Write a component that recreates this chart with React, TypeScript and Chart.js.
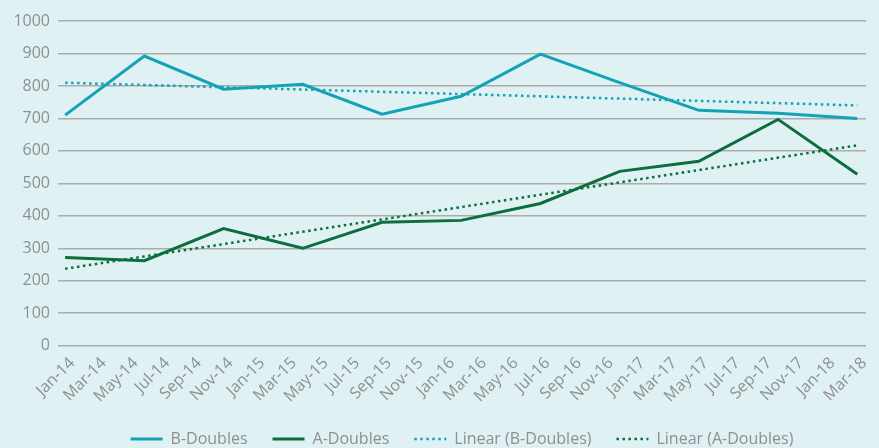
import React, { useEffect, useRef } from "react";
import { Chart, registerables } from "chart.js";

Chart.register(...registerables);

const tickLabels = [
  "Jan-14", "Mar-14", "May-14", "Jul-14", "Sep-14", "Nov-14",
  "Jan-15", "Mar-15", "May-15", "Jul-15", "Sep-15", "Nov-15",
  "Jan-16", "Mar-16", "May-16", "Jul-16", "Sep-16", "Nov-16",
  "Jan-17", "Mar-17", "May-17", "Jul-17", "Sep-17", "Nov-17",
  "Jan-18", "Mar-18",
];

const pointDates = [
  "Jan-14", "Jun-14", "Nov-14", "Apr-15", "Sep-15", "Feb-16",
  "Jul-16", "Dec-16", "May-17", "Oct-17", "Mar-18",
];
const bDoubles = [710, 892, 790, 805, 713, 768, 898, 810, 725, 716, 700];
const aDoubles = [272, 262, 361, 300, 380, 386, 438, 537, 568, 697, 528];

const trendDates = ["Jan-14", "Mar-18"];
const bTrend = [810, 740];
const aTrend = [237, 617];

const MONTHS = ["Jan", "Feb", "Mar", "Apr", "May", "Jun", "Jul", "Aug", "Sep", "Oct", "Nov", "Dec"];
const monthIndex = (label: string) => {
  const [m, y] = label.split("-");
  return (parseInt(y, 10) - 14) * 12 + MONTHS.indexOf(m);
};
const toPoints = (dates: string[], vals: number[]) =>
  dates.map((d, i) => ({ x: monthIndex(d), y: vals[i] }));

const B_COLOR = "#12a4b6";
const A_COLOR = "#0b6e3c";
const TEXT = "#8f8f8f";
const FONT = "'Open Sans', sans-serif";
const DOT = [2.5, 3.5];

export default function App() {
  const ref = useRef<HTMLCanvasElement>(null);
  useEffect(() => {
    if (!ref.current) return;
    const chart = new Chart(ref.current, {
      type: "line",
      data: {
        datasets: [
          {
            label: "B-Doubles",
            data: toPoints(pointDates, bDoubles),
            borderColor: B_COLOR,
            backgroundColor: B_COLOR,
            borderWidth: 3,
            pointRadius: 0,
            tension: 0,
          },
          {
            label: "A-Doubles",
            data: toPoints(pointDates, aDoubles),
            borderColor: A_COLOR,
            backgroundColor: A_COLOR,
            borderWidth: 3,
            pointRadius: 0,
            tension: 0,
          },
          {
            label: "Linear (B-Doubles)",
            data: toPoints(trendDates, bTrend),
            borderColor: B_COLOR,
            backgroundColor: B_COLOR,
            borderWidth: 2.5,
            borderDash: DOT,
            pointRadius: 0,
          },
          {
            label: "Linear (A-Doubles)",
            data: toPoints(trendDates, aTrend),
            borderColor: A_COLOR,
            backgroundColor: A_COLOR,
            borderWidth: 2.5,
            borderDash: DOT,
            pointRadius: 0,
          },
        ],
      },
      options: {
        responsive: false,
        animation: false,
        layout: { padding: { left: 0, right: 13, top: 21, bottom: -9 } },
        scales: {
          x: {
            type: "linear",
            min: -0.45,
            max: 50.55,
            afterBuildTicks: (scale: any) => {
              scale.ticks = tickLabels.map((l) => ({ value: monthIndex(l) }));
            },
            grid: { display: false },
            border: { display: false },
            ticks: {
              autoSkip: false,
              minRotation: 45,
              maxRotation: 45,
              color: TEXT,
              font: { family: FONT, size: 16 },
              padding: 0,
              labelOffset: 7,
              callback: (v: any) => {
                const i = tickLabels.findIndex((l) => monthIndex(l) === v);
                return i >= 0 ? tickLabels[i] : "";
              },
            },
          },
          y: {
            min: 0,
            max: 1000,
            afterFit: (scale: any) => {
              scale.width = 58;
            },
            grid: { color: "#ababab", lineWidth: 1.5, drawTicks: false },
            border: { display: false },
            ticks: {
              stepSize: 100,
              color: TEXT,
              padding: 8,
              font: { family: FONT, size: 16 },
              callback: (v: any) => String(v),
            },
          },
        },
        plugins: {
          tooltip: { enabled: false },
          legend: {
            position: "bottom",
            fullSize: false,
            labels: {
              usePointStyle: true,
              pointStyle: "line",
              pointStyleWidth: 32,
              padding: 25,
              color: TEXT,
              font: { family: FONT, size: 16 },
              generateLabels: (c: any) =>
                c.data.datasets.map((ds: any, i: number) => ({
                  text: ds.label,
                  datasetIndex: i,
                  fillStyle: ds.borderColor,
                  strokeStyle: ds.borderColor,
                  lineWidth: ds.borderWidth,
                  lineDash: ds.borderDash || [],
                  lineCap: "butt",
                  pointStyle: "line",
                  fontColor: TEXT,
                  hidden: false,
                })),
            },
          },
        },
      },
    });
    return () => chart.destroy();
  }, []);
  return (
    <div
      style={{
        position: "fixed",
        left: 0,
        top: 0,
        width: 879,
        height: 448,
        background: "#e0f1f4",
      }}
    >
      <canvas ref={ref} width={879} height={448} style={{ display: "block" }} />
    </div>
  );
}
